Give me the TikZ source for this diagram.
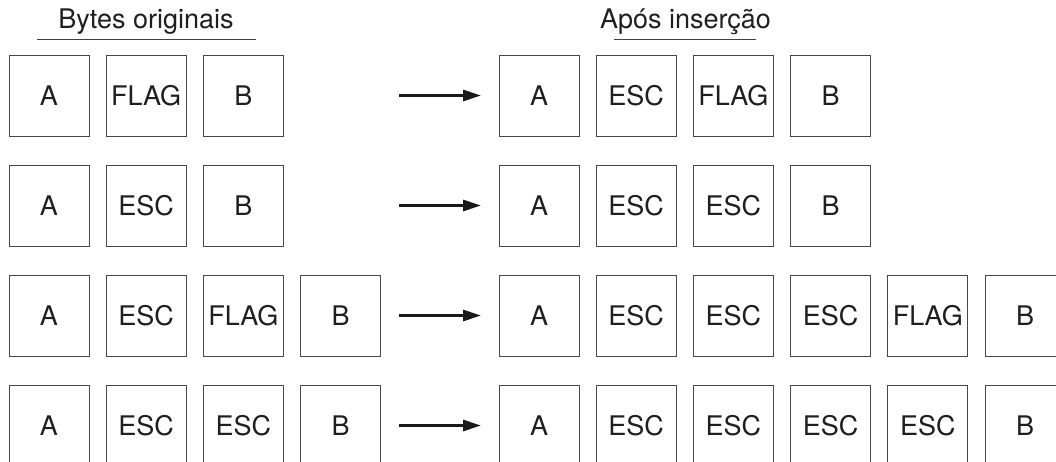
\documentclass[tikz,border=0pt]{standalone}
\usepackage{fontspec}
\setmainfont{TeX Gyre Heros}
\usetikzlibrary{arrows.meta}
\begin{document}
\begin{tikzpicture}[x=1pt,y=-1pt,
  byte/.style={draw=black!72, line width=0.9pt, minimum width=80pt,
    minimum height=81pt, inner sep=0pt, text=black!88,
    font=\fontsize{27}{31}\selectfont, text height=19.3pt, text depth=0pt},
  heading/.style={anchor=base, inner sep=0pt, text=black!88,
    font=\fontsize{27}{31}\selectfont},
  rule/.style={draw=black!75, line width=0.9pt},
  conv/.style={-{Triangle[length=18pt,width=11pt]}, line width=3pt, draw=black!90}]
\useasboundingbox (0,0) rectangle (1056,462);
\clip (0,0) rectangle (1056,462);
\fill[white] (0,0) rectangle (1056,462);

% column headings
\node[heading] (hl) at (146,29) {Bytes originais};
\node[heading] (hr) at (685.5,29) {Após inserção};
\draw[rule] (37,39) -- (256,39);
\draw[rule] (614,39) -- (756,39);

% row 1
\foreach \t [count=\k] in {A,FLAG,B}
  \node[byte] (l1-\k) at ({49+97.2*(\k-1)},95.5) {\t};
\foreach \t [count=\k] in {A,ESC,FLAG,B}
  \node[byte] (r1-\k) at ({539+97.2*(\k-1)},95.5) {\t};
% row 2
\foreach \t [count=\k] in {A,ESC,B}
  \node[byte] (l2-\k) at ({49+97.2*(\k-1)},205.5) {\t};
\foreach \t [count=\k] in {A,ESC,ESC,B}
  \node[byte] (r2-\k) at ({539+97.2*(\k-1)},205.5) {\t};
% row 3
\foreach \t [count=\k] in {A,ESC,FLAG,B}
  \node[byte] (l3-\k) at ({49+97.2*(\k-1)},315.5) {\t};
\foreach \t [count=\k] in {A,ESC,ESC,ESC,FLAG,B}
  \node[byte] (r3-\k) at ({539+97.2*(\k-1)},315.5) {\t};
% row 4
\foreach \t [count=\k] in {A,ESC,ESC,B}
  \node[byte] (l4-\k) at ({49+97.2*(\k-1)},425.5) {\t};
\foreach \t [count=\k] in {A,ESC,ESC,ESC,ESC,B}
  \node[byte] (r4-\k) at ({539+97.2*(\k-1)},425.5) {\t};

% stuffing arrows
\foreach \r in {1,2,3,4} {
  \coordinate (s\r) at (399,{95.5+110*(\r-1)});
  \coordinate (e\r) at (481,{95.5+110*(\r-1)});
  \draw[conv] (s\r) -- (e\r);
}
\end{tikzpicture}
\end{document}
